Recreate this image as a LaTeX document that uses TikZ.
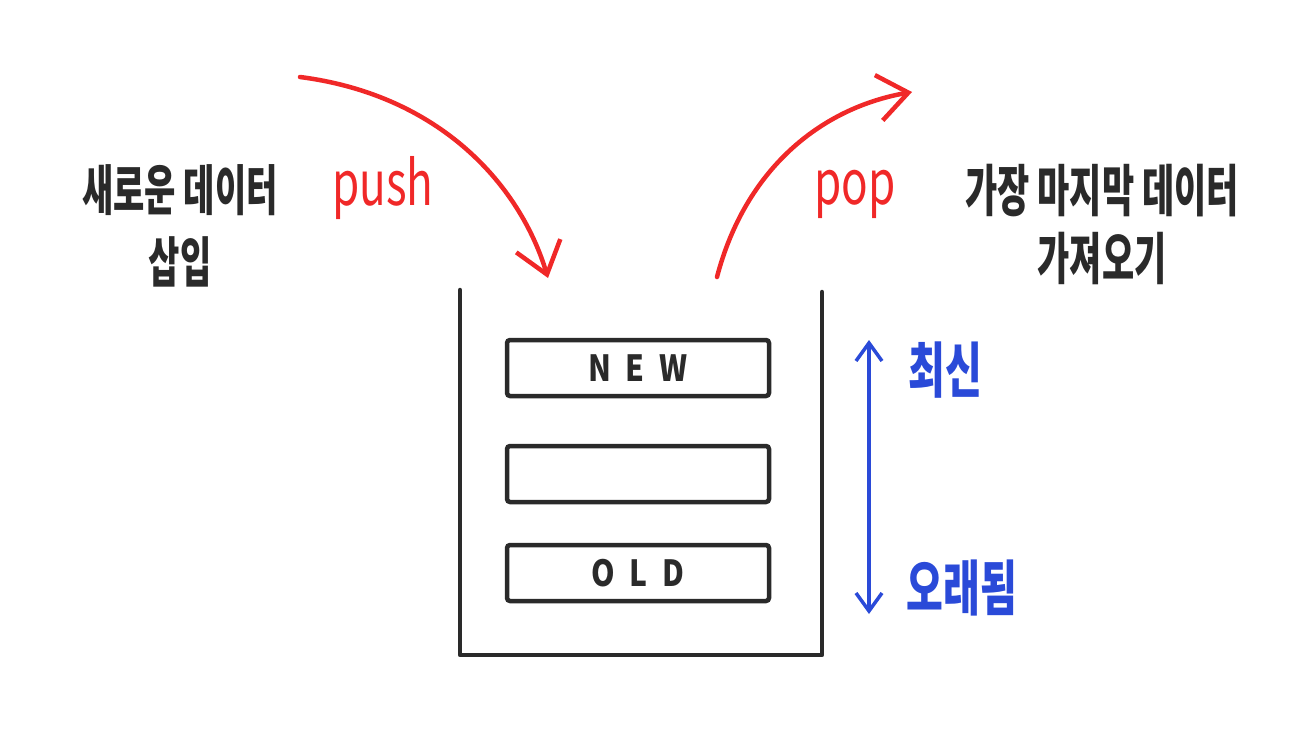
\documentclass[tikz,border=0pt]{standalone}
\usepackage{fontspec}
\usepackage{graphicx}
\setmainfont{Noto Sans CJK KR}
\usetikzlibrary{arrows.meta}
\definecolor{pencil}{HTML}{2A2A2A}
\definecolor{pred}{HTML}{F02828}
\definecolor{pblue}{HTML}{2A4AD8}
\newcommand{\stretchtxt}[2][1.6]{\scalebox{1}[#1]{#2}}
\tikzset{
  wall/.style={draw=pencil, line width=4.5pt, line cap=round, line join=round},
  slot/.style={draw=pencil, line width=4.5pt, rounded corners=3pt, minimum width=262pt, minimum height=56pt, inner sep=0pt, font=\fontsize{30}{32}\selectfont\bfseries, text=pencil},
  redarrow/.style={draw=pred, line width=4.5pt, line cap=round, -{Straight Barb[length=30pt,width=46pt,line width=4.5pt]}},
  bluearrow/.style={draw=pblue, line width=3.5pt, line cap=round, {Straight Barb[length=18pt,width=26pt,line width=3.5pt]}-{Straight Barb[length=18pt,width=26pt,line width=3.5pt]}},
  note/.style={text=pencil, align=center, inner sep=0pt},
  redlabel/.style={text=pred, inner sep=0pt, font=\fontsize{44}{48}\selectfont},
  bluelabel/.style={text=pblue, inner sep=0pt, font=\fontsize{40}{44}\selectfont\bfseries},
}
\begin{document}
\begin{tikzpicture}[x=1pt,y=-1pt]
\useasboundingbox (0,0) rectangle (1296,733);
% stack container
\coordinate (tl) at (460,290);
\coordinate (bl) at (460,655);
\coordinate (br) at (822,655);
\coordinate (tr) at (822,292);
\draw[wall] (tl) -- (bl) -- (br) -- (tr);
% slots
\node[slot] (new) at (638,368) {\stretchtxt[1.2]{N\kern15pt E\kern15pt W}};
\node[slot] (mid) at (638,474) {};
\node[slot] (old) at (638,573) {\stretchtxt[1.2]{O\kern15pt L\kern15pt D}};
% push arrow
\coordinate (pushs) at (300,77);
\coordinate (pushe) at (548,278);
\draw[redarrow] (pushs) .. controls (440,95) and (520,185) .. (pushe);
% pop arrow
\coordinate (pops) at (717,277);
\coordinate (pope) at (912,92);
\draw[redarrow] (pops) .. controls (745,170) and (820,108) .. (pope);
% blue double arrow
\coordinate (bt) at (869,340);
\coordinate (bb) at (869,614);
\draw[bluearrow] (bt) -- (bb);
% labels
\node[redlabel] (push) at (383,188) {\stretchtxt[1.4]{push}};
\node[redlabel] (pop) at (855,194) {\stretchtxt[1.4]{pop}};
\node[note, font=\fontsize{34}{72}\selectfont\bfseries] (insert) at (180,226) {\stretchtxt{새로운 데이터}\\\stretchtxt{삽입}};
\node[note, font=\fontsize{35}{68}\selectfont\bfseries] (fetch) at (1102,224) {\stretchtxt{가장 마지막 데이터}\\\stretchtxt{가져오기}};
\node[bluelabel] (latest) at (945,370) {\stretchtxt[1.5]{최신}};
\node[bluelabel] (oldest) at (962,588) {\stretchtxt[1.5]{오래됨}};
\end{tikzpicture}
\end{document}
